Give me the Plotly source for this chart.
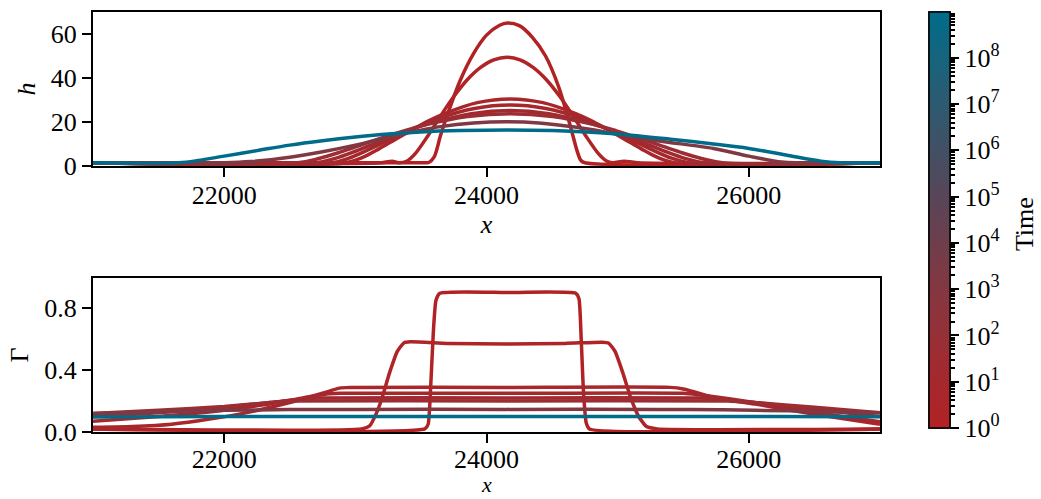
import math
import plotly.graph_objects as go
import plotly.colors as pc

# ---------------- data ----------------
times = [1, 2, 5, 10, 20, 40, 1500, 9.8e8]

# h(x) curves
hA_x = [21000, 23530, 23560, 23600, 23650, 23700, 23800, 23900, 24000, 24100, 24160, 24250, 24350, 24450, 24550, 24640, 24690, 24720, 24750, 27000]
hA_y = [1.5, 1.5, 1.6, 4, 14, 23, 39, 51, 59.5, 64, 65, 63.8, 58.5, 50, 36, 18, 7, 2.5, 1.5, 1.5]

hB_x = [21000, 23200, 23280, 23330, 23395, 23455, 23555, 23655, 23755, 23855, 23955, 24055, 24155, 24255, 24355, 24455, 24555, 24655, 24755, 24855, 24915, 24960, 25050, 25150, 27000]
hB_y = [1.5, 1.5, 2.2, 1.5, 2.3, 5.5, 13.9, 23.2, 31.9, 39.3, 44.8, 48.2, 49.4, 48.2, 44.8, 39.3, 31.9, 23.2, 13.9, 5.5, 2.3, 1.5, 2.2, 1.5, 1.5]

hC_x = [21000, 22930, 23055, 23180, 23305, 23430, 23555, 23680, 23930, 24180, 24430, 24680, 24805, 24930, 25055, 25180, 25305, 25430, 27000]
hC_y = [1.5, 1.5, 3.9, 7.8, 12.1, 16.3, 20.4, 23.8, 28.8, 30.5, 28.8, 23.8, 20.4, 16.3, 12.1, 7.8, 3.9, 1.5, 1.5]

hD_x = [21000, 22820, 22956, 23092, 23228, 23364, 23500, 23636, 23908, 24180, 24452, 24724, 24860, 24996, 25132, 25268, 25404, 25540, 27000]
hD_y = [1.5, 1.5, 3.7, 7.2, 11.0, 14.9, 18.5, 21.7, 26.15, 27.7, 26.15, 21.7, 18.5, 14.9, 11.0, 7.2, 3.7, 1.5, 1.5]

hE_x = [21000, 22700, 22848, 22996, 23144, 23292, 23440, 23588, 23884, 24180, 24476, 24772, 24920, 25068, 25216, 25364, 25512, 25660, 27000]
hE_y = [1.5, 1.5, 3.5, 6.6, 10.1, 13.6, 16.9, 19.75, 23.8, 25.2, 23.8, 19.75, 16.9, 13.6, 10.1, 6.6, 3.5, 1.5, 1.5]

hF_x = [21000, 22560, 22722, 22884, 23046, 23208, 23370, 23532, 23856, 24180, 24504, 24828, 24990, 25152, 25314, 25476, 25638, 25800, 27000]
hF_y = [1.5, 1.5, 3.4, 6.3, 9.6, 12.9, 16.0, 18.7, 22.5, 23.8, 22.5, 18.7, 16.0, 12.9, 9.6, 6.3, 3.4, 1.5, 1.5]

hG_x = [21000, 22000, 22200, 22500, 22750, 23000, 23270, 23500, 23650, 23900, 24150, 24400, 24700, 24970, 25300, 25730, 26000, 26250, 26400, 27000]
hG_y = [1.5, 1.5, 2.0, 4.0, 6.5, 9.5, 13.3, 16.3, 17.9, 19.5, 20.1, 19.6, 17.5, 14.8, 11.5, 8.0, 4.5, 1.8, 1.5, 1.5]

hH_x = [21000, 21650, 21800, 22000, 22250, 22500, 22750, 23000, 23250, 23500, 23800, 24150, 24500, 24800, 25100, 25400, 25700, 26000, 26300, 26550, 26700, 27000]
hH_y = [1.5, 1.5, 2.5, 4.5, 7.0, 9.5, 11.5, 13.2, 14.6, 15.5, 16.1, 16.4, 16.1, 15.3, 14.0, 12.2, 10.2, 8.0, 4.8, 2.2, 1.5, 1.5]

# Gamma(x) curves
gA_x = [21000, 23530, 23555, 23575, 23595, 23615, 23645, 24150, 24680, 24705, 24722, 24740, 24760, 24785, 27000]
gA_y = [0.02, 0.02, 0.05, 0.3, 0.65, 0.85, 0.895, 0.9, 0.895, 0.86, 0.6, 0.25, 0.06, 0.02, 0.02]

gB_x = [21000, 23050, 23110, 23160, 23200, 23260, 23320, 23370, 23420, 23700, 24150, 24600, 24880, 24930, 24980, 25040, 25100, 25160, 25220, 25300, 27000]
gB_y = [0.02, 0.02, 0.04, 0.12, 0.21, 0.38, 0.52, 0.575, 0.582, 0.572, 0.568, 0.572, 0.58, 0.575, 0.52, 0.38, 0.22, 0.1, 0.035, 0.02, 0.02]

gC_x = [21000, 21300, 21600, 21900, 22200, 22500, 22750, 22880, 22960, 24180, 25400, 25500, 25600, 25750, 26050, 26500, 27000]
gC_y = [0.03, 0.035, 0.05, 0.085, 0.13, 0.19, 0.25, 0.283, 0.288, 0.288, 0.288, 0.278, 0.255, 0.22, 0.18, 0.115, 0.05]

gD_x = [21000, 21500, 22000, 22300, 22600, 22780, 22880, 24180, 25500, 25620, 25850, 26200, 26600, 27000]
gD_y = [0.07, 0.1, 0.14, 0.175, 0.22, 0.245, 0.25, 0.25, 0.25, 0.24, 0.215, 0.17, 0.115, 0.066]

gE_x = [21000, 21500, 22000, 22400, 22620, 22720, 24180, 25640, 25760, 26100, 26500, 27000]
gE_y = [0.1, 0.125, 0.16, 0.195, 0.215, 0.22, 0.22, 0.22, 0.212, 0.185, 0.145, 0.1]

gF_x = [21000, 21500, 22000, 22350, 22520, 24180, 25840, 26000, 26500, 27000]
gF_y = [0.12, 0.14, 0.165, 0.19, 0.2, 0.2, 0.2, 0.193, 0.16, 0.125]

gG_x = [21000, 21500, 22000, 22500, 23000, 24150, 25300, 25800, 26300, 27000]
gG_y = [0.12, 0.13, 0.14, 0.145, 0.146, 0.146, 0.146, 0.143, 0.137, 0.125]

gH_x = [21000, 22000, 24150, 26000, 27000]
gH_y = [0.097, 0.1, 0.1, 0.1, 0.098]

h_curves = [(hA_x, hA_y), (hB_x, hB_y), (hC_x, hC_y), (hD_x, hD_y), (hE_x, hE_y), (hF_x, hF_y), (hG_x, hG_y), (hH_x, hH_y)]
g_curves = [(gA_x, gA_y), (gB_x, gB_y), (gC_x, gC_y), (gD_x, gD_y), (gE_x, gE_y), (gF_x, gF_y), (gG_x, gG_y), (gH_x, gH_y)]

x_ticks = [22000, 24000, 26000]
h_ticks = [0, 20, 40, 60]
g_ticks = [0.0, 0.4, 0.8]
g_ticktext = ["0.0", "0.4", "0.8"]
cb_major = list(range(0, 9))
cb_major_text = ["10<sup>%d</sup>" % k for k in cb_major]

# ---------------- style ----------------
LOG_MAX = 8.99
cs_cols = ["rgb(178,34,36)", "rgb(165,40,45)", "rgb(150,48,55)", "rgb(132,55,65)",
           "rgb(110,62,76)", "rgb(88,70,88)", "rgb(66,80,100)", "rgb(45,90,112)",
           "rgb(22,100,125)", "rgb(0,108,138)"]
cs_pos = [0, 1, 2, 3, 4, 5, 6, 7, 8, LOG_MAX]
colorscale = [[p / LOG_MAX, c] for p, c in zip(cs_pos, cs_cols)]

FONT = "Liberation Serif"
FS = 26

fig = go.Figure()
for t, (hx, hy), (gx, gy) in zip(times, h_curves, g_curves):
    col = pc.sample_colorscale(colorscale, [min(math.log10(t) / LOG_MAX, 1.0)])[0]
    fig.add_trace(go.Scatter(x=hx, y=hy, mode="lines",
                             line=dict(color=col, width=3.5, shape="spline", smoothing=0.9),
                             xaxis="x", yaxis="y", showlegend=False, hoverinfo="skip"))
    fig.add_trace(go.Scatter(x=gx, y=gy, mode="lines",
                             line=dict(color=col, width=3.5, shape="spline", smoothing=0.5),
                             xaxis="x2", yaxis="y2", showlegend=False, hoverinfo="skip"))

# minor ticks for colorbar (log minor positions)
cb_minor = [math.log10(m * 10 ** k) for k in range(0, 9) for m in range(2, 10) if math.log10(m * 10 ** k) <= LOG_MAX]

cb_common = dict(thickness=21, thicknessmode="pixels", len=416, lenmode="pixels",
                 x=1.0623, xanchor="left", y=1.0, yanchor="top", xpad=0, ypad=0,
                 outlinecolor="black", outlinewidth=1.5, ticks="outside",
                 tickcolor="black")
fig.add_trace(go.Scatter(x=[None], y=[None], mode="markers", showlegend=False, hoverinfo="skip",
                         marker=dict(color=[0], cmin=0, cmax=LOG_MAX, colorscale=colorscale, showscale=True,
                                     colorbar=dict(**cb_common, tickvals=cb_minor, ticktext=[""] * len(cb_minor),
                                                   ticklen=5, tickwidth=1.5))))
fig.add_trace(go.Scatter(x=[None], y=[None], mode="markers", showlegend=False, hoverinfo="skip",
                         marker=dict(color=[0], cmin=0, cmax=LOG_MAX, colorscale=colorscale, showscale=True,
                                     colorbar=dict(**cb_common, tickvals=cb_major, ticktext=cb_major_text,
                                                   ticklen=9, tickwidth=2,
                                                   tickfont=dict(family=FONT, size=FS, color="black")))))

ax_common = dict(showline=True, linecolor="black", linewidth=2, mirror=True, showgrid=False,
                 zeroline=False, ticks="outside", ticklen=9, tickwidth=2, tickcolor="black",
                 tickfont=dict(family=FONT, size=FS, color="black"), automargin=False)

fig.update_layout(
    width=1041, height=499,
    margin=dict(l=93, r=161, t=12, b=67),
    paper_bgcolor="white", plot_bgcolor="white",
    font=dict(family=FONT, size=FS, color="black"),
    xaxis=dict(**ax_common, domain=[0, 1], anchor="y", range=[21000, 27000], tickvals=x_ticks,
               ticktext=[str(v) for v in x_ticks], ticklabelstandoff=-4,
               title=dict(text="<i>x</i>", standoff=0, font=dict(family=FONT, size=FS))),
    yaxis=dict(**ax_common, domain=[0.6333, 1], anchor="x", range=[0, 70], tickvals=h_ticks,
               title=dict(text="<i>h</i>", standoff=8, font=dict(family=FONT, size=FS))),
    xaxis2=dict(**ax_common, domain=[0, 1], anchor="y2", range=[21000, 27000], tickvals=x_ticks,
                ticktext=[str(v) for v in x_ticks], ticklabelstandoff=-6),
    yaxis2=dict(**ax_common, domain=[0, 0.3667], anchor="x2", range=[0, 0.994], tickvals=g_ticks,
                ticktext=g_ticktext,
                title=dict(text="Γ", standoff=8, font=dict(family=FONT, size=FS))),
    annotations=[
        dict(text="Time", xref="paper", yref="paper", x=1.183, y=0.495,
             xanchor="center", yanchor="middle", textangle=-90, showarrow=False,
             font=dict(family=FONT, size=FS, color="black")),
        dict(text="<i>x</i>", xref="paper", yref="paper", x=0.5, y=-0.1595,
             xanchor="center", yanchor="bottom", showarrow=False,
             font=dict(family=FONT, size=22, color="black")),
    ],
)

fig.write_html("out.html")
